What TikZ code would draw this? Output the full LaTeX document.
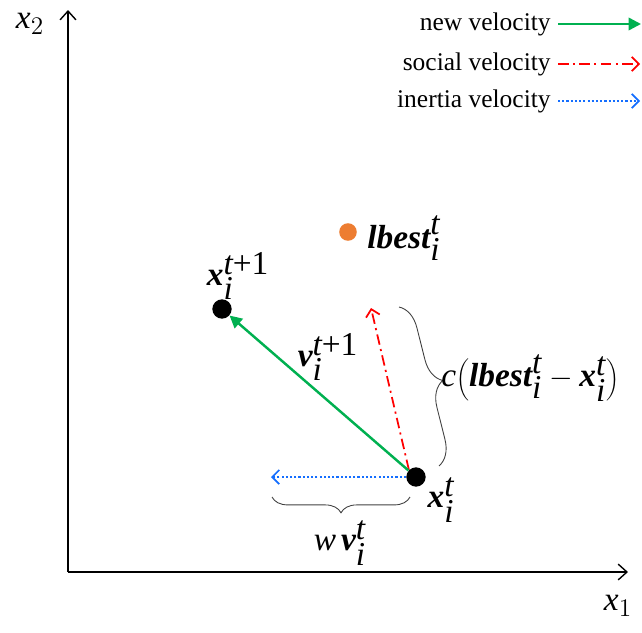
\documentclass[tikz,border=0pt]{standalone}
\usepackage{fontspec}
\setmainfont{Liberation Serif}
\usetikzlibrary{arrows.meta,decorations.pathreplacing}
\definecolor{mygreen}{RGB}{0,176,80}
\definecolor{myred}{RGB}{255,0,0}
\definecolor{myblue}{RGB}{20,110,255}
\definecolor{myorange}{RGB}{237,125,49}
\newcommand\bv[1]{\mbox{\bfseries\itshape #1}}
\newcommand\iv[1]{\mbox{\itshape #1}}
\begin{document}
\begin{tikzpicture}[x=0.02cm,y=-0.02cm,
  lbl/.style={inner sep=0pt,font=\fontsize{19}{22}\selectfont},
  leg/.style={inner sep=0pt,anchor=east,font=\fontsize{14.5}{16}\selectfont},
  axis/.style={line width=0.8pt,-{Straight Barb[length=5pt,width=9pt]}},
  newv/.style={mygreen,line width=1.4pt,-{Triangle[length=7pt,width=7pt]}},
  socv/.style={myred,line width=1pt,dash pattern=on 6pt off 2.5pt on 1.2pt off 2.5pt,-{Straight Barb[length=4pt,width=8pt]}},
  inev/.style={myblue,line width=1pt,dash pattern=on 1.2pt off 1.2pt,-{Straight Barb[length=4pt,width=8pt]}},
  dot/.style={circle,fill=black,minimum size=11pt,inner sep=0pt},
  br/.style={draw=black!75,line width=0.5pt,decorate,decoration={brace,amplitude=9pt}}]
\useasboundingbox (0,0) rectangle (642,632);
% axes
\coordinate (O) at (68,572);
\coordinate (Ytop) at (68,10);
\coordinate (Xend) at (628,572);
\draw[axis] (O) -- (Ytop);
\draw[axis] (O) -- (Xend);
\node[lbl] (x2) at (30,24) {$\iv{x}_{2}$};
\node[lbl] (x1) at (618,606) {$\iv{x}_{1}$};
% legend
\node[leg] (l1) at (551,24) {new velocity};
\node[leg] (l2) at (551,64) {social velocity};
\node[leg] (l3) at (551,101) {inertia velocity};
\coordinate (a1s) at (558,24); \coordinate (a1e) at (641,24);
\coordinate (a2s) at (558,64); \coordinate (a2e) at (640,64);
\coordinate (a3s) at (558,101); \coordinate (a3e) at (640,101);
\draw[newv] (a1s) -- (a1e);
\draw[socv] (a2s) -- (a2e);
\draw[inev] (a3s) -- (a3e);
% points
\node[circle,fill=myorange,minimum size=10pt,inner sep=0pt] (lb) at (348,232) {};
\node[lbl,anchor=west] (lbl) at (367,238) {$\bv{lbest}_{\iv{i}}^{\iv{t}}$};
\node[dot] (xn) at (222,309) {};
\node[lbl] (xnl) at (238,276) {$\bv{x}_{\iv{i}}^{\iv{t}\mbox{+1}}$};
\node[dot] (xc) at (416,477) {};
\node[lbl] (xcl) at (441,500) {$\bv{x}_{\iv{i}}^{\iv{t}}$};
% vectors
\coordinate (soc) at (371,308);
\coordinate (ine) at (271,477);
\draw[socv] (xc.north west) -- (soc);
\draw[inev] (xc.west) -- (ine);
\draw[newv] (xc) -- (xn);
\node[lbl] (vl) at (328,357) {$\bv{v}_{\iv{i}}^{\iv{t}\mbox{+1}}$};
% braces
\coordinate (b1a) at (410,497); \coordinate (b1b) at (272,497);
\draw[br] (b1a) -- (b1b);
\node[lbl] (wv) at (340,543) {$\iv{w}\,\bv{v}_{\iv{i}}^{\iv{t}}$};
\coordinate (b2a) at (399,307); \coordinate (b2b) at (439,466);
\draw[br,decoration={brace,amplitude=14pt}] (b2a) -- (b2b);
\node[lbl,anchor=west] (cl) at (441,378) {$\iv{c}\biggl(\bv{lbest}_{\iv{i}}^{\iv{t}}-\bv{x}_{\iv{i}}^{\iv{t}}\biggr)$};
\end{tikzpicture}
\end{document}
